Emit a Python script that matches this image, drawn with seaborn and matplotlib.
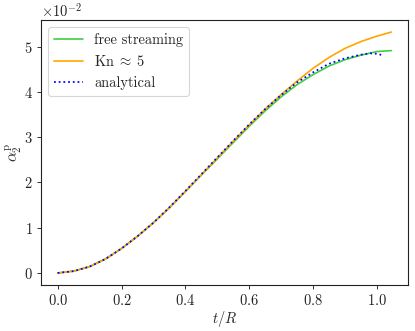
import numpy as np
import pandas as pd
import matplotlib
matplotlib.use("Agg")
import matplotlib.pyplot as plt
import seaborn as sns

# Data (values of alpha_2^p)
t_an = [0.0, 0.05, 0.10, 0.15, 0.20, 0.25, 0.30, 0.35, 0.40, 0.45, 0.50, 0.55,
        0.60, 0.65, 0.70, 0.75, 0.80, 0.85, 0.90, 0.95, 0.98, 1.00, 1.017]
y_an = [0.0, 0.0004, 0.0014, 0.0031, 0.0054, 0.0081, 0.0111, 0.0145, 0.0181,
        0.0218, 0.0255, 0.0292, 0.0328, 0.0362, 0.0393, 0.0421, 0.0443, 0.0462,
        0.0474, 0.0482, 0.0485, 0.0484, 0.0481]

t_fs = [0.0, 0.05, 0.10, 0.15, 0.20, 0.25, 0.30, 0.35, 0.40, 0.45, 0.50, 0.55,
        0.60, 0.65, 0.70, 0.75, 0.80, 0.85, 0.90, 0.95, 1.00, 1.045]
y_fs = [0.0, 0.0004, 0.0014, 0.0031, 0.0054, 0.0081, 0.0111, 0.0144, 0.0180,
        0.0216, 0.0252, 0.0288, 0.0324, 0.0358, 0.0389, 0.0416, 0.0438, 0.0457,
        0.0471, 0.0481, 0.0489, 0.0491]

t_kn = [0.0, 0.05, 0.10, 0.15, 0.20, 0.25, 0.30, 0.35, 0.40, 0.45, 0.50, 0.55,
        0.60, 0.65, 0.70, 0.75, 0.80, 0.85, 0.90, 0.95, 1.00, 1.045]
y_kn = [0.0, 0.0004, 0.0014, 0.0031, 0.0054, 0.0081, 0.0111, 0.0144, 0.0180,
        0.0217, 0.0254, 0.0291, 0.0327, 0.0362, 0.0394, 0.0424, 0.0452, 0.0476,
        0.0496, 0.0511, 0.0523, 0.0532]

labels = ["free streaming", r"$\mathrm{Kn}\;\approx\;5$", "analytical"]

sns.set_style("ticks")
fs = 13
plt.rcParams.update({
    "font.family": ["cmr10", "DejaVu Serif"],
    "mathtext.fontset": "cm",
    "axes.formatter.use_mathtext": True,
    "font.size": fs,
    "axes.edgecolor": "#222222",
    "axes.linewidth": 1.0,
    "xtick.major.size": 4,
    "ytick.major.size": 4,
    "xtick.color": "#222222",
    "ytick.color": "#222222",
    "xtick.labelsize": fs,
    "ytick.labelsize": fs,
    "legend.fontsize": fs,
    "axes.labelsize": fs,
})

fig, ax = plt.subplots(figsize=(415 / 80, 331 / 80), dpi=80)
fig.subplots_adjust(left=41 / 415, right=408 / 415, bottom=1 - 285 / 331, top=1 - 20 / 331)

sns.lineplot(x=t_fs, y=y_fs, color="#3fcf3f", lw=1.5, label=labels[0], ax=ax)
sns.lineplot(x=t_kn, y=y_kn, color="orange", lw=1.5, label=labels[1], ax=ax)
sns.lineplot(x=t_an, y=y_an, color="blue", lw=1.6, linestyle=":", label=labels[2], ax=ax)

ax.set_xlabel(r"$t/R$", labelpad=1)
ax.set_ylabel(r"$\alpha_2^{\mathrm{p}}$", labelpad=0, fontsize=14)
ax.ticklabel_format(axis="y", style="sci", scilimits=(0, 0))
ax.set_xticks([0.0, 0.2, 0.4, 0.6, 0.8, 1.0])
ax.set_yticks([0, 0.01, 0.02, 0.03, 0.04, 0.05])
ax.legend(loc="upper left", frameon=True)

fig.savefig("out.png", dpi=80)
